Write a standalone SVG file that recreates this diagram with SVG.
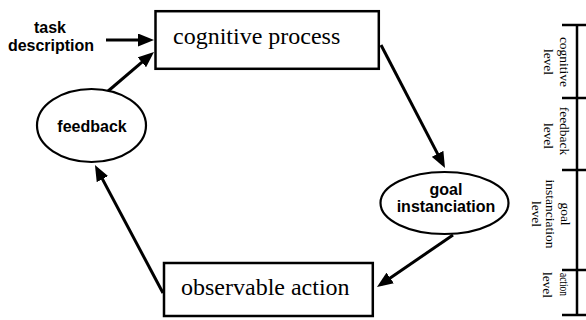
<svg xmlns="http://www.w3.org/2000/svg" width="586" height="320" viewBox="0 0 586 320">
<defs>
<marker id="ah" markerUnits="userSpaceOnUse" markerWidth="16" markerHeight="13" refX="11" refY="6.5" orient="auto">
<path d="M0,0 L16,6.5 L0,13 z" fill="#000"/>
</marker>
<style>
.box{fill:#fff;stroke:#000;stroke-width:2.5}
.ell{fill:#fff;stroke:#000;stroke-width:2.2}
.conn{stroke:#000;stroke-width:3;fill:none;marker-end:url(#ah)}
.big{font-family:"Liberation Serif",serif;font-size:24px;fill:#000}
.lbl{font-family:"Liberation Sans",Arial,sans-serif;font-weight:bold;font-size:16px;fill:#000;text-anchor:middle}
.lvl{font-family:"Liberation Serif",serif;font-size:13.5px;fill:#000;text-anchor:middle}
.scale{stroke:#000;stroke-width:2.5;fill:none}
</style>
</defs>
<rect width="586" height="320" fill="#fff"/>
<g id="connectors">
<line class="conn" x1="106" y1="40" x2="149" y2="40"/>
<line class="conn" x1="107" y1="92" x2="150.2" y2="55.2"/>
<line class="conn" x1="381" y1="45" x2="442.7" y2="163.6"/>
<line class="conn" x1="453" y1="235" x2="381.1" y2="284.2"/>
<line class="conn" x1="163" y1="293" x2="97.3" y2="169.4"/>
</g>
<g id="task-description">
<text class="lbl" x="50" y="33">task</text>
<text class="lbl" x="51" y="51">description</text>
</g>
<g id="cognitive-process">
<rect class="box" x="155.5" y="11.2" width="223.3" height="57.6"/>
<text class="big" x="173" y="44">cognitive process</text>
</g>
<g id="feedback">
<ellipse class="ell" cx="91.5" cy="125.5" rx="54.5" ry="36.5"/>
<text class="lbl" x="92" y="132">feedback</text>
</g>
<g id="goal-instanciation">
<ellipse class="ell" cx="444.5" cy="203" rx="64" ry="31"/>
<text class="lbl" x="446" y="195">goal</text>
<text class="lbl" x="446" y="212">instanciation</text>
</g>
<g id="observable-action">
<rect class="box" x="164" y="263" width="208.8" height="53"/>
<text class="big" x="181" y="295">observable action</text>
</g>
<g id="levels">
<line class="scale" x1="577" y1="25" x2="577" y2="315"/>
<line class="scale" x1="562" y1="25" x2="586" y2="25"/>
<line class="scale" x1="562" y1="98" x2="586" y2="98"/>
<line class="scale" x1="562" y1="170" x2="586" y2="170"/>
<line class="scale" x1="562" y1="270" x2="586" y2="270"/>
<line class="scale" x1="562" y1="315" x2="586" y2="315"/>
<g transform="translate(560,62) rotate(90)">
<text class="lvl" x="0" y="0">cognitive</text>
<text class="lvl" x="0" y="16">level</text>
</g>
<g transform="translate(560,133) rotate(90)">
<text class="lvl" x="-2" y="0">feedback</text>
<text class="lvl" x="3" y="16">level</text>
</g>
<g transform="translate(561,214) rotate(90)">
<text class="lvl" x="0" y="0">goal</text>
<text class="lvl" x="0" y="15">instanciation</text>
<text class="lvl" x="0" y="29">level</text>
</g>
<g transform="translate(560,283) rotate(90)">
<text class="lvl" x="1.5" y="0" textLength="23" lengthAdjust="spacingAndGlyphs">action</text>
<text class="lvl" x="2" y="17">level</text>
</g>
</g>
</svg>
